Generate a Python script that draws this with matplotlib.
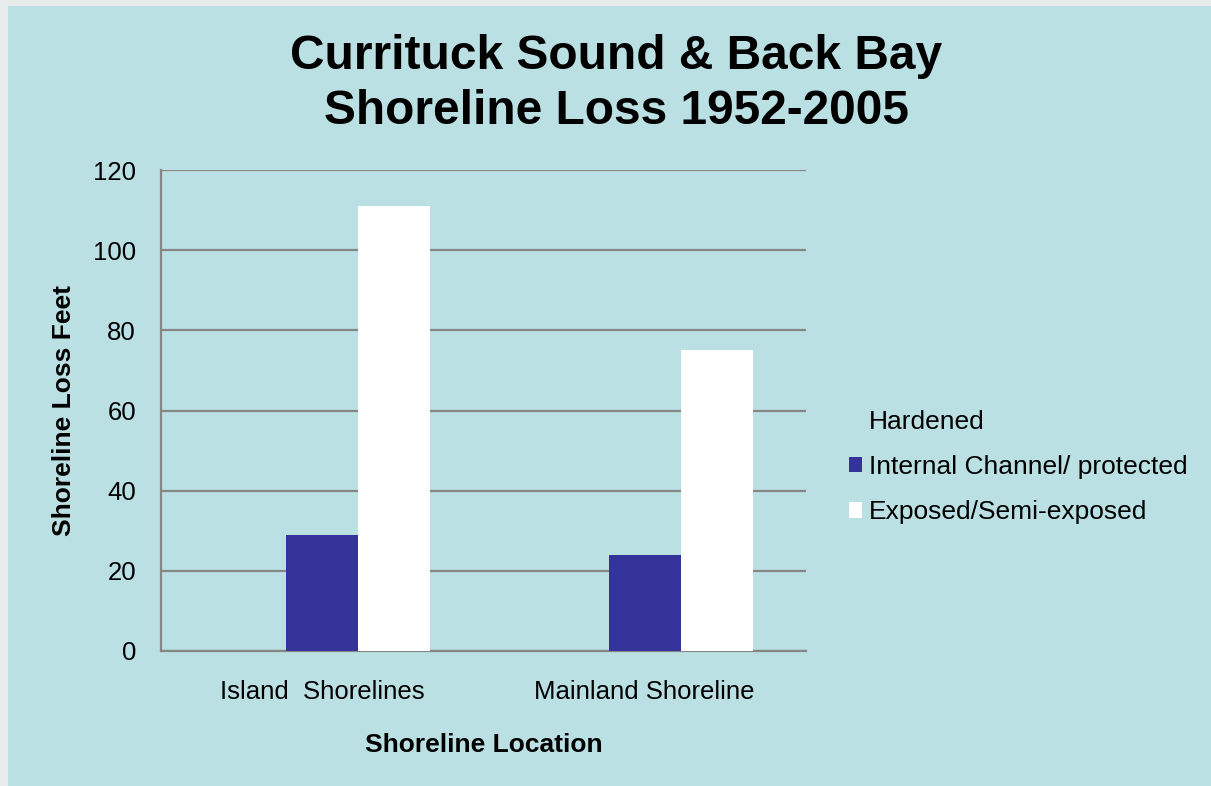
import numpy as np
import matplotlib
matplotlib.use('Agg')
import matplotlib.pyplot as plt
from matplotlib.patches import Rectangle

plt.rcParams['font.family'] = ['Liberation Sans', 'DejaVu Sans']

locations = ['Island  Shorelines', 'Mainland Shoreline']
series = ['Hardened', 'Internal Channel/ protected', 'Exposed/Semi-exposed']
hardened = [0, 0]
internal = [29, 24]
exposed = [111, 75]
colors = ['none', '#333399', '#ffffff']

W, H = 1211, 786
fig = plt.figure(figsize=(W / 100, H / 100), dpi=100)
fig.patch.set_facecolor('#bae0e3')

# pale slide edge along the top and left
fig.patches.append(Rectangle((0, 1 - 6 / H), 1, 6 / H, transform=fig.transFigure,
                             facecolor='#e8ecec', edgecolor='none', zorder=0))
fig.patches.append(Rectangle((0, 0), 8 / W, 1, transform=fig.transFigure,
                             facecolor='#e8ecec', edgecolor='none', zorder=0))

ax = fig.add_axes([161 / W, 1 - 651 / H, 645 / W, 481 / H])
ax.set_facecolor('none')

x = np.arange(len(locations))
bw = 72 / 322.5
handles = []
for i, (name, vals, c) in enumerate(zip(series, [hardened, internal, exposed], colors)):
    b = ax.bar(x + (i - 1) * bw, vals, bw, color=c, label=name, zorder=3,
               edgecolor='none')
    handles.append(b)

ax.set_xlim(-0.5, 1.5)
ax.set_ylim(0, 120)
ax.set_yticks(range(0, 121, 20))
ax.set_xticks(x)
ax.set_xticklabels(locations)
ax.yaxis.grid(True, color='#868686', linewidth=1.6, zorder=1)
ax.tick_params(axis='both', length=0, labelsize=18.5, colors='black')
ax.tick_params(axis='y', pad=18)
ax.tick_params(axis='x', pad=21)
for s in ['top', 'right']:
    ax.spines[s].set_visible(False)
for s in ['left', 'bottom']:
    ax.spines[s].set_color('#868686')
    ax.spines[s].set_linewidth(1.6)

ax.set_ylabel('Shoreline Loss Feet', fontsize=19, fontweight='bold', labelpad=12)
ax.set_xlabel('Shoreline Location', fontsize=19, fontweight='bold', labelpad=21)

fig.text(616 / W, 1 - 84 / H, 'Currituck Sound & Back Bay\nShoreline Loss 1952-2005',
         ha='center', va='center', fontsize=34.5, fontweight='bold', linespacing=1.3)

fig.legend(handles=handles, labels=series, loc='center left',
           bbox_to_anchor=(849 / W, 1 - 467 / H), frameon=False, fontsize=19,
           handlelength=0.5, handleheight=0.5, handletextpad=0.27,
           labelspacing=0.81, borderpad=0, borderaxespad=0)

fig.savefig('out.png', dpi=100, facecolor=fig.get_facecolor())
